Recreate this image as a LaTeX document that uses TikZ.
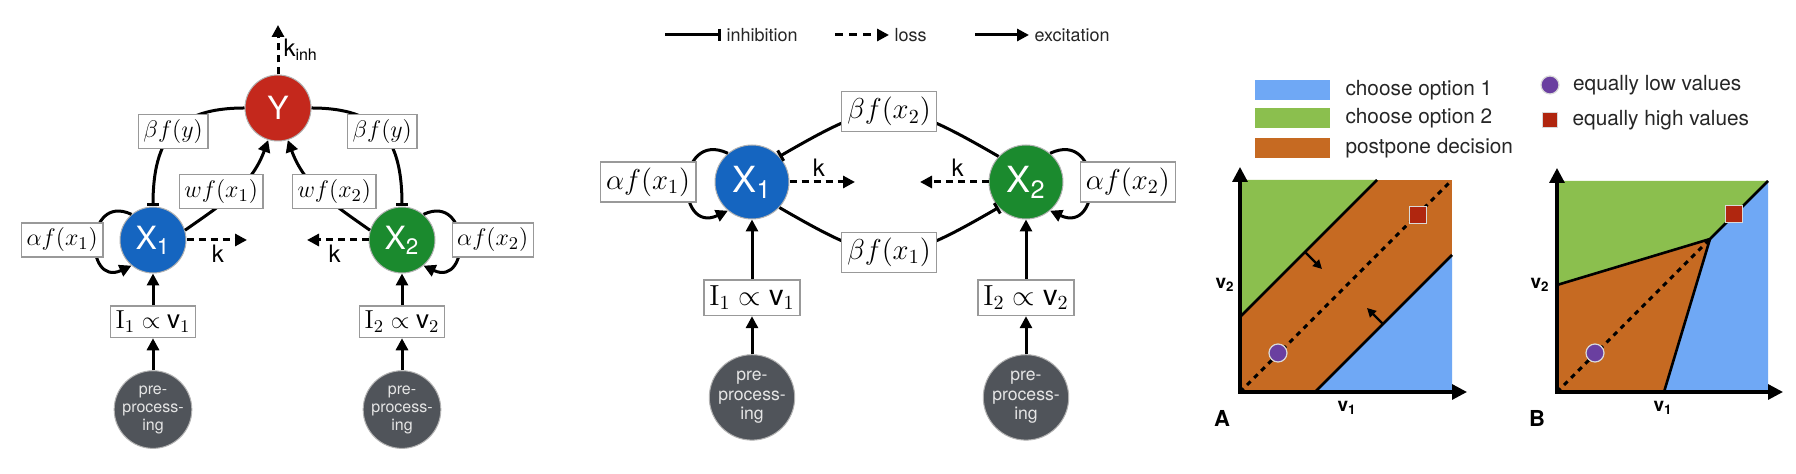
\documentclass[tikz,border=0pt]{standalone}
\usepackage{fontspec}
\setsansfont{TeX Gyre Heros}
\usetikzlibrary{arrows.meta, positioning, calc}
\definecolor{cblue}{HTML}{1565C0}
\definecolor{cgreen}{HTML}{1B8A2E}
\definecolor{cred}{HTML}{C4281C}
\definecolor{cgrey}{HTML}{50545A}
\definecolor{rblue}{HTML}{6FA8F5}
\definecolor{rgreen}{HTML}{8BBF4E}
\definecolor{rorange}{HTML}{C66A22}
\definecolor{mpurple}{HTML}{6A3FA0}
\definecolor{mred}{HTML}{B0260F}
\tikzset{
  every picture/.style={font=\sffamily, line width=1.5pt},
  unit/.style={circle, fill=#1, draw=black!30, line width=0.5pt, text=white, inner sep=0pt, minimum size=33pt, font=\sffamily\fontsize{16}{16}\selectfont},
  bigunit/.style={unit=#1, minimum size=37pt, font=\sffamily\fontsize{18}{18}\selectfont},
  prep/.style={circle, fill=cgrey, draw=black!30, line width=0.5pt, text=white!90!black, inner sep=0pt, minimum size=33pt, align=center, font=\sffamily\fontsize{8}{9}\selectfont},
  bigprep/.style={prep, minimum size=37pt, font=\sffamily\fontsize{8.8}{9.8}\selectfont},
  term/.style={draw=black!40, line width=0.7pt, fill=white, inner sep=2.5pt, font=\fontsize{13}{13}\selectfont},
  bigterm/.style={term, inner sep=2.8pt, font=\fontsize{14.5}{14.5}\selectfont},
  excite/.style={-{Triangle[length=6pt,width=6pt]}},
  inhibit/.style={-{Bar[width=6pt]}},
  loss/.style={-{Triangle[length=6pt,width=6pt]}, dash pattern=on 3.5pt off 2.5pt},
  rate/.style={font=\sffamily\fontsize{12}{12}\selectfont, inner sep=2pt},
  legend/.style={anchor=west, inner sep=2pt, text=black!85, font=\sffamily\fontsize{9}{9}\selectfont},
  swatch/.style={minimum width=37.5pt, minimum height=10pt, inner sep=0pt, fill=#1},
  keytext/.style={inner sep=3pt, text=black!85, font=\sffamily\fontsize{10.4}{10.4}\selectfont},
  axes/.style={line width=1.6pt, {Triangle[length=7.5pt,width=7.5pt]}-{Triangle[length=7.5pt,width=7.5pt]}},
  border/.style={line width=1.3pt},
  diag/.style={line width=1.5pt, dash pattern=on 2.5pt off 2.5pt},
  nudge/.style={line width=1.1pt, -{Triangle[length=4.5pt,width=4.5pt]}},
  lowmark/.style={circle, fill=mpurple, draw=white!85!black, line width=0.6pt, minimum size=9pt, inner sep=0pt},
  highmark/.style={rectangle, fill=mred, draw=white!85!black, line width=0.6pt, minimum size=8.5pt, inner sep=0pt},
  axlbl/.style={font=\sffamily\bfseries\fontsize{9.5}{9.5}\selectfont},
  panel/.style={font=\sffamily\bfseries\fontsize{11}{11}\selectfont},
}

\begin{document}
\begin{tikzpicture}[x=0.5pt, y=-0.5pt]
  \fill[white] (0,0) rectangle (1796,474);
  \useasboundingbox (0,0) rectangle (1796,474);

  % three-unit circuit
  \node[unit=cred] (Y) at (278,108) {Y};
  \node[unit=cblue] (X1) at (153,240) {X\textsubscript{1}};
  \node[unit=cgreen] (X2) at (402,240) {X\textsubscript{2}};
  \node[term, below=16pt of X1] (I1) {$\mathrm{I}_1\propto\mathsf{v}_1$};
  \node[term, below=16pt of X2] (I2) {$\mathrm{I}_2\propto\mathsf{v}_2$};
  \node[prep, below=16pt of I1] (P1) {pre-\\process-\\ing};
  \node[prep, below=16pt of I2] (P2) {pre-\\process-\\ing};
  \coordinate (kin) at (278,25);
  \coordinate (k1) at (247,240);
  \coordinate (k2) at (307,240);
  \draw[excite] (P1) -- (I1);
  \draw[excite] (I1) -- (X1);
  \draw[excite] (P2) -- (I2);
  \draw[excite] (I2) -- (X2);
  \draw[inhibit] (Y.west) to[out=180, in=90, looseness=1.3] node[term] (byl) {$\beta f(y)$} (X1.north);
  \draw[inhibit] (Y.east) to[out=0, in=90, looseness=1.3] node[term] (byr) {$\beta f(y)$} (X2.north);
  \draw[excite] (X1.17) to[out=35, in=250] node[term, xshift=-7pt] (wx1) {$w f(x_1)$} (Y.253);
  \draw[excite] (X2.163) to[out=145, in=290] node[term, xshift=7pt] (wx2) {$w f(x_2)$} (Y.287);
  \draw[excite] (X1.130) to[out=155, in=205, looseness=2.6] (X1.230);
  \draw[excite] (X2.50) to[out=25, in=-25, looseness=2.6] (X2.-50);
  \node[term, left=8pt of X1] (ax1) {$\alpha f(x_1)$};
  \node[term, right=8pt of X2] (ax2) {$\alpha f(x_2)$};
  \draw[loss] (X1) -- node[rate, below, pos=0.52] (kx1) {k} (k1);
  \draw[loss] (X2) -- node[rate, below, pos=0.55] (kx2) {k} (k2);
  \draw[loss] (Y) -- node[rate, right] (ky) {k\textsubscript{inh}} (kin);

  % legend
  \node[legend] (linh) at (721,35) {inhibition};
  \node[legend] (lloss) at (889,35) {loss};
  \node[legend] (lexc) at (1029,35) {excitation};
  \coordinate (linh0) at (665,35);
  \coordinate (lloss0) at (835,35);
  \coordinate (lexc0) at (975,35);
  \draw[inhibit] (linh0) -- (linh.west);
  \draw[loss, dash pattern=on 4pt off 3pt] (lloss0) -- (lloss.west);
  \draw[excite] (lexc0) -- (lexc.west);

  % two-unit circuit
  \node[bigunit=cblue] (M1) at (752,182) {X\textsubscript{1}};
  \node[bigunit=cgreen] (M2) at (1026,182) {X\textsubscript{2}};
  \node[bigterm, below=30pt of M1] (J1) {$\mathrm{I}_1\propto\mathsf{v}_1$};
  \node[bigterm, below=30pt of M2] (J2) {$\mathrm{I}_2\propto\mathsf{v}_2$};
  \node[bigprep, below=19pt of J1] (Q1) {pre-\\process-\\ing};
  \node[bigprep, below=19pt of J2] (Q2) {pre-\\process-\\ing};
  \coordinate (m1) at (855,182);
  \coordinate (m2) at (920,182);
  \draw[excite] (Q1) -- (J1);
  \draw[excite] (J1) -- (M1);
  \draw[excite] (Q2) -- (J2);
  \draw[excite] (J2) -- (M2);
  \draw[inhibit] (M2.137) to[out=150, in=30, looseness=1.4] node[bigterm] (bx2) {$\beta f(x_2)$} (M1.43);
  \draw[inhibit] (M1.-43) to[out=-30, in=-150, looseness=1.4] node[bigterm] (bx1) {$\beta f(x_1)$} (M2.-137);
  \draw[excite] (M1.130) to[out=155, in=205, looseness=2.6] (M1.230);
  \draw[excite] (M2.50) to[out=25, in=-25, looseness=2.6] (M2.-50);
  \node[bigterm, left=9pt of M1] (am1) {$\alpha f(x_1)$};
  \node[bigterm, right=8pt of M2] (am2) {$\alpha f(x_2)$};
  \draw[loss] (M1) -- node[rate, above, pos=0.45] (km1) {k} (m1);
  \draw[loss] (M2) -- node[rate, above, pos=0.45] (km2) {k} (m2);

  % decision regions
  \node[swatch=rblue] (s1) at (1292,90) {};
  \node[swatch=rgreen] (s2) at (1292,118) {};
  \node[swatch=rorange] (s3) at (1292,148) {};
  \node[keytext, right=3.5pt of s1] (t1) {choose option 1};
  \node[keytext, right=3.5pt of s2] (t2) {choose option 2};
  \node[keytext, right=3.5pt of s3] (t3) {postpone decision};
  \node[lowmark] (kl) at (1550,85) {};
  \node[highmark, minimum size=7.5pt] (kh) at (1550,120) {};
  \node[keytext, right=3pt of kl] (tl) {equally low values};
  \node[keytext, right=3.5pt of kh] (th) {equally high values};

  \fill[rorange] (1240,392) rectangle (1452,180);
  \fill[rgreen] (1240,180) -- (1377,180) -- (1240,317) -- cycle;
  \fill[rblue] (1315,392) -- (1452,392) -- (1452,255) -- cycle;
  \draw[diag] (1240,392) -- (1452,180);
  \draw[border] (1240,317) -- (1377,180);
  \draw[border] (1315,392) -- (1452,255);
  \draw[nudge] (1305,252) -- (1322,269);
  \draw[nudge] (1383,324) -- (1367,308);
  \node[lowmark] (lowA) at (1278,353) {};
  \node[highmark] (highA) at (1418,215) {};
  \draw[axes] (1240,167) -- (1240,392) -- (1467,392);
  \node[axlbl] (v2A) at (1225,285) {v\textsubscript{2}};
  \node[axlbl] (v1A) at (1347,408) {v\textsubscript{1}};
  \node[panel] (pA) at (1222,418) {A};

  \fill[rorange] (1557,392) -- (1557,285) -- (1710,239) -- (1664,392) -- cycle;
  \fill[rgreen] (1557,285) -- (1557,181) -- (1768,181) -- (1710,239) -- cycle;
  \fill[rblue] (1768,181) -- (1768,392) -- (1664,392) -- (1710,239) -- cycle;
  \draw[diag] (1557,392) -- (1710,239);
  \draw[border] (1557,285) -- (1710,239) -- (1768,181);
  \draw[border] (1710,239) -- (1664,392);
  \node[lowmark] (lowB) at (1595,353) {};
  \node[highmark] (highB) at (1734,214) {};
  \draw[axes] (1557,168) -- (1557,392) -- (1783,392);
  \node[axlbl] (v2B) at (1540,285) {v\textsubscript{2}};
  \node[axlbl] (v1B) at (1663,408) {v\textsubscript{1}};
  \node[panel] (pB) at (1537,418) {B};
\end{tikzpicture}
\end{document}
